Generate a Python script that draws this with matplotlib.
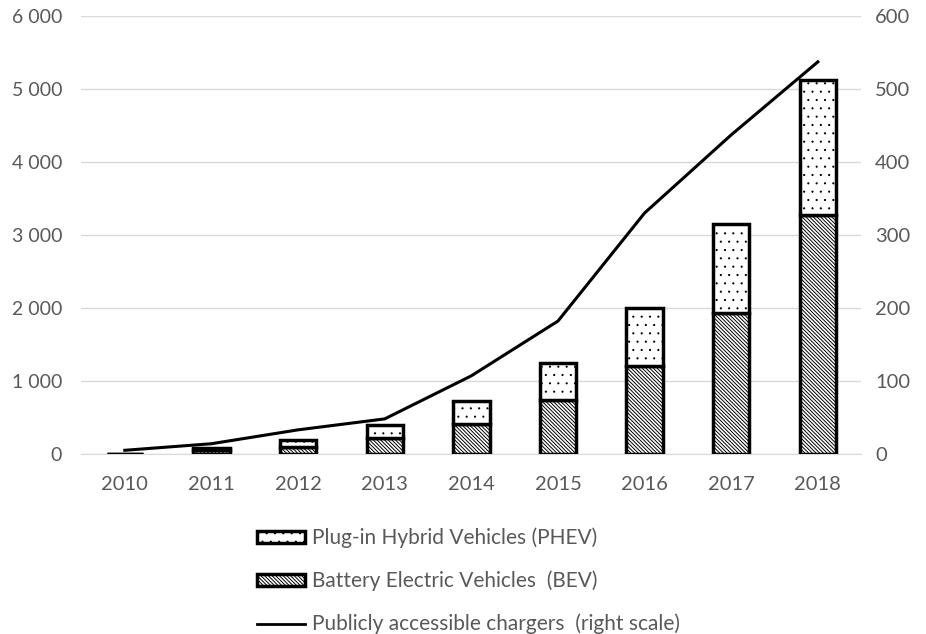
import matplotlib
matplotlib.use("Agg")
import matplotlib.pyplot as plt
import matplotlib.hatch
from matplotlib.ticker import FuncFormatter
from matplotlib.lines import Line2D
from matplotlib.patches import Patch

years = ["2010", "2011", "2012", "2013", "2014", "2015", "2016", "2017", "2018"]
bev = [3, 50, 100, 225, 410, 740, 1205, 1935, 3275]
phev = [2, 30, 90, 165, 315, 510, 800, 1215, 1845]
chargers = [5, 14, 33, 48, 107, 182, 330, 437, 537]

GREY = "#595959"
BEV_HATCH = "\\" * 9
PHEV_HATCH = ".."
# the source uses tiny sparse dots
matplotlib.hatch.SmallFilledCircles.size = 0.07
plt.rcParams["font.family"] = ["Lato", "DejaVu Sans"]
plt.rcParams["hatch.linewidth"] = 0.7

fig = plt.figure(figsize=(9.26, 6.34), dpi=100)
ax = fig.add_axes([0.088, 0.284, 0.842, 0.691])
ax2 = ax.twinx()

x = range(len(years))
ax.bar(x, bev, width=0.42, color="white", edgecolor="black", hatch=BEV_HATCH,
       linewidth=2.5, zorder=3)
ax.bar(x, phev, bottom=bev, width=0.42, color="white", edgecolor="black",
       hatch=PHEV_HATCH, linewidth=2.5, zorder=3)
ax2.plot(x, chargers, color="black", lw=2.2)

ax.set_ylim(0, 6000)
ax2.set_ylim(0, 600)
ax.set_xlim(-0.5, len(years) - 0.5)
ax.set_yticks(range(0, 6001, 1000))
ax2.set_yticks(range(0, 601, 100))
ax.yaxis.set_major_formatter(FuncFormatter(lambda v, p: f"{int(v):,}".replace(",", " ")))
ax.set_xticks(list(x))
ax.set_xticklabels(years)
ax.grid(axis="y", color="#d9d9d9", lw=1, zorder=0)
ax.set_axisbelow(True)

for a in (ax, ax2):
    for s in a.spines.values():
        s.set_visible(False)
    a.tick_params(length=0, labelsize=14.5, colors=GREY)
ax.tick_params(axis="y", pad=14, labelsize=14)
ax.tick_params(axis="x", pad=16)
ax2.tick_params(axis="y", pad=10)
ax.spines["bottom"].set_visible(True)
ax.spines["bottom"].set_color("#d9d9d9")

handles = [
    Patch(facecolor="white", edgecolor="black", hatch=PHEV_HATCH, linewidth=2.5),
    Patch(facecolor="white", edgecolor="black", hatch=BEV_HATCH, linewidth=2.5),
    Line2D([0], [0], color="black", lw=2),
]
labels = ["Plug-in Hybrid Vehicles (PHEV)", "Battery Electric Vehicles  (BEV)",
          "Publicly accessible chargers  (right scale)"]
leg = fig.legend(handles, labels, loc="upper left", bbox_to_anchor=(0.269, 0.181),
                 frameon=False, fontsize=15, labelspacing=1.08, handlelength=2.3,
                 handleheight=0.55, handletextpad=0.3, borderaxespad=0)
for t in leg.get_texts():
    t.set_color(GREY)

fig.savefig("out.png", dpi=100)
